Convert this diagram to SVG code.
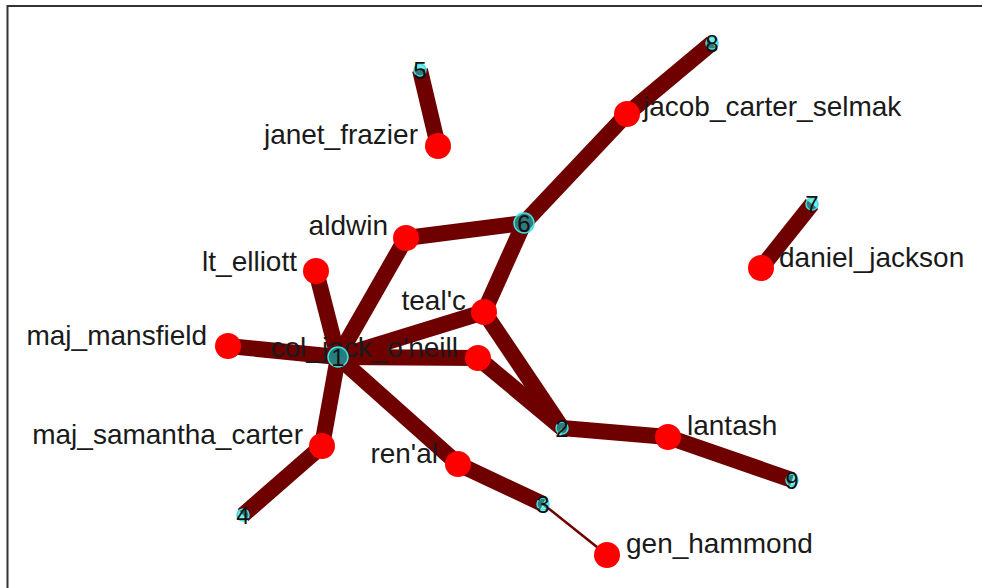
<svg xmlns="http://www.w3.org/2000/svg" width="982" height="588" viewBox="0 0 982 588">
<style>
.e{stroke:#6e0000;stroke-width:16;stroke-linecap:butt;fill:none}
.thin{stroke:#6e0000;stroke-width:2.5;fill:none}
.r{fill:#ff0000}
.c{fill:#00e0e0;fill-opacity:0.55;stroke:#3fe0e0;stroke-width:1.5}
.lbl{font-family:"Liberation Sans",Arial,sans-serif;font-size:28px;fill:#1a1a1a}
.num{font-family:"Liberation Sans",Arial,sans-serif;font-size:24px;fill:#111;text-anchor:middle}
.end{text-anchor:end}
</style>
<rect x="0" y="0" width="982" height="588" fill="#ffffff"/>
<path d="M7.5,588 V6 H982" fill="none" stroke="#333" stroke-width="2"/>
<g id="connectors">
<line class="e" x1="420" y1="70" x2="438" y2="146"/>
<line class="e" x1="712" y1="43" x2="627" y2="114"/>
<line class="e" x1="627" y1="114" x2="524" y2="223"/>
<line class="e" x1="524" y1="223" x2="406" y2="238"/>
<line class="e" x1="524" y1="223" x2="484" y2="312"/>
<line class="e" x1="406" y1="238" x2="338" y2="357"/>
<line class="e" x1="316" y1="271" x2="338" y2="357"/>
<line class="e" x1="228" y1="346" x2="338" y2="357"/>
<line class="e" x1="338" y1="357" x2="484" y2="312"/>
<line class="e" x1="338" y1="357" x2="478" y2="358"/>
<line class="e" x1="338" y1="357" x2="322" y2="446"/>
<line class="e" x1="322" y1="446" x2="243" y2="515"/>
<line class="e" x1="338" y1="357" x2="458" y2="464"/>
<line class="e" x1="458" y1="464" x2="543" y2="504"/>
<line class="thin" x1="543" y1="504" x2="607" y2="555"/>
<line class="e" x1="484" y1="312" x2="562" y2="428"/>
<line class="e" x1="478" y1="358" x2="562" y2="428"/>
<line class="e" x1="562" y1="428" x2="668" y2="437"/>
<line class="e" x1="668" y1="437" x2="792" y2="480"/>
<line class="e" x1="812" y1="204" x2="761" y2="268"/>
</g>
<g id="n-janet_frazier"><circle class="r" cx="438" cy="146" r="13"/><text class="lbl end" x="418" y="144">janet_frazier</text></g>
<g id="n-jacob_carter_selmak"><circle class="r" cx="627" cy="114" r="13"/><text class="lbl" x="643" y="116">jacob_carter_selmak</text></g>
<g id="n-aldwin"><circle class="r" cx="406" cy="238" r="13"/><text class="lbl end" x="388" y="235">aldwin</text></g>
<g id="n-lt_elliott"><circle class="r" cx="316" cy="271" r="13"/><text class="lbl end" x="297" y="271">lt_elliott</text></g>
<g id="n-daniel_jackson"><circle class="r" cx="761" cy="268" r="13"/><text class="lbl" x="779" y="267">daniel_jackson</text></g>
<g id="n-tealc"><circle class="r" cx="484" cy="312" r="13"/><text class="lbl end" x="466" y="310">teal'c</text></g>
<g id="n-maj_mansfield"><circle class="r" cx="228" cy="346" r="13"/><text class="lbl end" x="207" y="345">maj_mansfield</text></g>
<g id="n-col_jack_oneill"><circle class="r" cx="478" cy="358" r="13"/><text class="lbl end" x="458" y="357">col_jack_o'neill</text></g>
<g id="n-maj_samantha_carter"><circle class="r" cx="322" cy="446" r="13"/><text class="lbl end" x="303" y="444">maj_samantha_carter</text></g>
<g id="n-renal"><circle class="r" cx="458" cy="464" r="13"/><text class="lbl end" x="438" y="463">ren'al</text></g>
<g id="n-lantash"><circle class="r" cx="668" cy="437" r="13"/><text class="lbl" x="687" y="435">lantash</text></g>
<g id="n-gen_hammond"><circle class="r" cx="607" cy="555" r="13"/><text class="lbl" x="626" y="553">gen_hammond</text></g>
<g id="n-1"><circle class="c" cx="338" cy="357" r="10"/><text class="num" x="338" y="366">1</text></g>
<g id="n-6"><circle class="c" cx="524" cy="223" r="10"/><text class="num" x="524" y="232">6</text></g>
<g id="n-2"><circle class="c" cx="562" cy="428" r="6"/><text class="num" x="562" y="437">2</text></g>
<g id="n-3"><circle class="c" cx="543" cy="504" r="6"/><text class="num" x="543" y="513">3</text></g>
<g id="n-4"><circle class="c" cx="243" cy="515" r="6"/><text class="num" x="243" y="524">4</text></g>
<g id="n-5"><circle class="c" cx="420" cy="70" r="6"/><text class="num" x="420" y="79">5</text></g>
<g id="n-7"><circle class="c" cx="812" cy="204" r="6"/><text class="num" x="812" y="213">7</text></g>
<g id="n-8"><circle class="c" cx="712" cy="43" r="6"/><text class="num" x="712" y="52">8</text></g>
<g id="n-9"><circle class="c" cx="792" cy="480" r="6"/><text class="num" x="792" y="489">9</text></g>
</svg>
